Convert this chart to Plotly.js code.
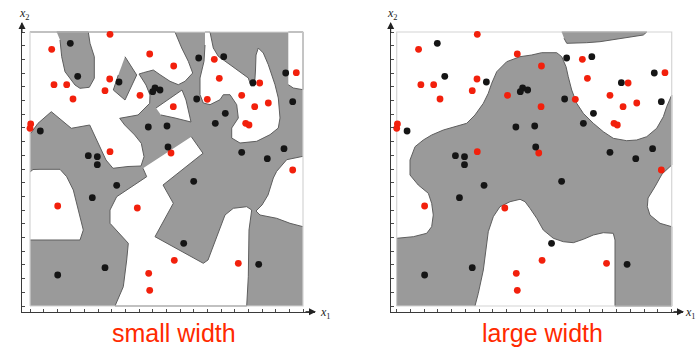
<!DOCTYPE html>
<html>
<head>
<meta charset="utf-8">
<script src="https://cdn.plot.ly/plotly-3.0.1.min.js"></script>
<style>html,body{margin:0;padding:0;background:#fff;}#chart{width:696px;height:347px;}</style>
</head>
<body>
<div id="chart"></div>
<script>
// ---- data points (shared by both panels), units: x1 0..273, x2 0..274 ----
const redX = [80,21.7,119.7,143.7,79.7,24,36.7,75,43,110,143.3,184.3,189.3,266.3,229.7,211.7,177.3,224.7,238.3,215.7,219,0.7,0,80,141,262.7,27.7,107.3,144.3,118.7,119.7,208.3];
const redY = [271.7,256.7,252,240,227,221.3,221.3,215.3,207,210.7,199.3,246.7,227.7,233.3,223,210.7,206.7,199.3,203,182.7,181,182,177.7,154.3,153,136,100,98,45.7,32.7,15.7,42.7];
const blackX = [40.3,47.7,89,125,130,122.7,168.7,193.7,255.7,223,166.7,262.7,195.3,185.3,10.3,118.3,137,138,58.3,67.3,67.3,211.7,237.3,254,86.7,62.3,163.7,153.7,75,27.7,228.7];
const blackY = [262.7,229.7,224,218,216,214.3,248,249.3,233,223.3,207,204.3,192.7,182.7,175,179,180,159,150.3,149.3,141.3,153.7,147.3,157.3,120.7,108.3,124.7,62.7,38.3,31,41.7];

// plot region bounds
const boxX = [0,273,273,0,0];
const boxY = [0,0,274,274,0];

// ---- left panel ("small width") : white regions on gray ----
const sW1x = [0,145,151.7,158.3,162.7,155,148.3,140,130,123.3,113.3,109,116,120,119.7,108,89.7,94.7,104.7,111.3,114,111,98,83,76,69.7,64.7,59.7,41.3,21.3,8,1,0];
const sW1y = [274,274,258,244.7,233,224.7,221.3,224.7,231.3,236,233.3,232,221,211,202.7,191,187.7,181,171,162.7,149.3,140,139.5,137.7,146,159.3,169.3,181,177.7,194.3,182.7,173,173];
const sW2x = [126,152,156,161,145,131];
const sW2y = [198,216,206,184,188,191];
const sW3x = [175,180,183.3,188.3,200,206.7,218.3,221,224.5,225.5,226,228.3,233.3,238.3,245,248.3,250,248.3,240,226.7,210,201.7,201.7,208.3,206.7,200,193.3,190,180,173.3,170,170,174,175];
const sW3y = [274,274,258,249.7,241.3,236.3,228,220,220,236,251,258,253,241.3,221.3,208,188,178,171.3,164.7,163,168,178,188,201.3,211.3,211.3,206.3,201.3,203,211.3,228,244.7,261];
const sW4x = [258.3,273,273,263.3,258.3];
const sW4y = [274,274,216.3,218,221.3];
const sW5x = [0,3,10,30,36.7,43.3,48.3,53.3,50,0];
const sW5y = [134,136.5,136.7,136.7,129.3,116,96,76,66,66];
const sW6x = [161.3,173,133,143.3,125,173.3,178,190,195,203.3,216.7,221.7,219,218.3,216.7,85,93.3,96.7,98.3,80,80,86.7,116.7,113];
const sW6y = [169.3,152.7,121,102.7,69.3,42.7,46,79.3,91,97.7,99.3,96,76,29.3,0,0,19.3,46,62.7,82.7,96,109.3,129.3,137.7];
const sW7x = [273,256.7,246.7,243.3,238,232,226,230,246.7,260,273];
const sW7y = [149.7,146.3,134.7,128,111,101,95,91,87.7,82.7,79.3];
// gray islands inside the upper white area
const sG1x = [26.7,58.3,60,64.3,64.3,59.3,50,45,35,31.7,30];
const sG1y = [274,274,262.7,249.3,227.7,218.7,217.7,221,234.3,249.3,266];
const sG2x = [95,106.7,95,83.3,88.3];
const sG2y = [249.3,231,206,216,231];

// ---- right panel ("large width") : gray regions on white ----
const lG1x = [163.8,248.2,244.8,228.3,215,201.8,188.6,175.3,168.8,166.1];
const lG1y = [274,274,271,268.7,266.7,264.3,263.3,262.7,262.7,267.7];
const lG2x = [0,0,16.5,29.8,34.7,36.3,34.7,31.4,21.4,13.2,13.2,18.2,26.4,34.7,46.3,59.6,69.5,77.7,86,90.9,94.3,99.3,109.2,122.4,134,143.9,158.8,163.8,168.1,170.3,173.7,178.7,185.2,195.2,205.1,215,228.3,238.2,248.2,258.1,264.7,268,273,273,263.4,256.4,249.5,248.8,251.4,261.4,273,273,216.7,216.7,215,205.1,195.2,185.2,175.3,165.4,155.5,145.5,139,132.3,127.4,122.4,112.5,102.5,95.9,90.9,89.3,86,81,77.7];
const lG2y = [0,67.7,69.3,72.7,79.3,91,102.7,112.7,121,131,146,159.3,166,171,176,180,182.7,191,202.7,212.7,222.7,234.3,244.3,249.3,251,253.3,253.3,249.3,239.3,229.3,216,202.7,192.7,182.7,174.3,167.7,165.3,166,169.3,177.7,189.3,199.3,211,141,132,119.3,108,99.3,91,82.7,79.3,0,0,66,72.7,73.3,71,66.7,63.3,64.3,67.7,76,87.7,97.7,104.3,106.7,104.3,99.3,89.3,74.3,62.7,36,12.7,0];

const GRAY = '#9a9a9a', EDGE = '#5e5e5e', RED = '#f2200c', BLK = '#151515';

function poly(xs, ys, fill, lineColor, xa, ya) {
  return {type:'scatter', mode:'lines', x:xs, y:ys, xaxis:xa, yaxis:ya, fill:'toself',
    fillcolor:fill, line:{color:lineColor, width: lineColor ? 1 : 0}, hoverinfo:'skip', showlegend:false};
}
function frame(xa, ya) {
  return {type:'scatter', mode:'lines', x:boxX, y:boxY, xaxis:xa, yaxis:ya,
    line:{color:'#d4d4d4', width:1.2}, hoverinfo:'skip', showlegend:false};
}
function pts(xs, ys, color, xa, ya) {
  return {type:'scatter', mode:'markers', x:xs, y:ys, xaxis:xa, yaxis:ya,
    marker:{color:color, size:6.8, line:{width:0}}, hoverinfo:'skip', showlegend:false, cliponaxis:false};
}

const traces = [
  poly(boxX, boxY, GRAY, null, 'x', 'y'),
  poly(sW1x, sW1y, '#ffffff', EDGE, 'x', 'y'),
  poly(sW2x, sW2y, '#ffffff', EDGE, 'x', 'y'),
  poly(sW3x, sW3y, '#ffffff', EDGE, 'x', 'y'),
  poly(sW4x, sW4y, '#ffffff', EDGE, 'x', 'y'),
  poly(sW5x, sW5y, '#ffffff', EDGE, 'x', 'y'),
  poly(sW6x, sW6y, '#ffffff', EDGE, 'x', 'y'),
  poly(sW7x, sW7y, '#ffffff', EDGE, 'x', 'y'),
  poly(sG1x, sG1y, GRAY, EDGE, 'x', 'y'),
  poly(sG2x, sG2y, GRAY, EDGE, 'x', 'y'),
  frame('x', 'y'),
  pts(redX, redY, RED, 'x', 'y'),
  pts(blackX, blackY, BLK, 'x', 'y'),

  poly(lG1x, lG1y, GRAY, EDGE, 'x2', 'y2'),
  poly(lG2x, lG2y, GRAY, EDGE, 'x2', 'y2'),
  frame('x2', 'y2'),
  pts(redX, redY, RED, 'x2', 'y2'),
  pts(blackX, blackY, BLK, 'x2', 'y2')
];

const W = 696, H = 347;
function px(v){ return v / W; }
function py(v){ return 1 - v / H; }

const axX = {showgrid:false, zeroline:false, showline:true, linecolor:'#3a3a3a', linewidth:1,
  ticks:'inside', ticklen:3, tickwidth:1, tickcolor:'#4a4a4a', showticklabels:false,
  tickmode:'linear', tick0:0, dtick:13.65, fixedrange:true};
const axY = Object.assign({}, axX, {dtick:13.7});

const serif = {family:'Liberation Serif, DejaVu Serif, serif', size:12, color:'#222'};
const capFont = {family:'Liberation Sans, Arial, sans-serif', size:25, color:'#ff2a00'};
function label(x, y, text, font) {
  return {xref:'paper', yref:'paper', x:px(x), y:py(y), xanchor:'center', yanchor:'middle', text:text, showarrow:false, font:font};
}
function arrow(x, y, ax, ay) {
  return {xref:'paper', yref:'paper', x:px(x), y:py(y), ax:ax, ay:ay, text:'', showarrow:true, arrowhead:2, arrowsize:1.4, arrowwidth:1, arrowcolor:'#222'};
}

const layout = {
  width: W, height: H, margin:{l:0,r:0,t:0,b:0}, paper_bgcolor:'#fff', plot_bgcolor:'rgba(0,0,0,0)',
  showlegend:false,
  xaxis: Object.assign({}, axX, {domain:[px(22), px(315)], range:[-8, 285], anchor:'y'}),
  yaxis: Object.assign({}, axY, {domain:[py(311.7), py(23)], range:[-5.7, 283], anchor:'x'}),
  xaxis2: Object.assign({}, axX, {domain:[px(390.7), px(683)], range:[-5.96, 284.2], anchor:'y2'}),
  yaxis2: Object.assign({}, axY, {domain:[py(311.7), py(23)], range:[-5.7, 283], anchor:'x2'}),
  annotations: [
    arrow(22, 22, 0, 12),
    arrow(316, 311.7, -12, 0),
    arrow(390.7, 22, 0, 12),
    arrow(684, 311.7, -12, 0),
    label(24, 14, '<i>x</i><sub>2</sub>', serif),
    label(325, 313, '<i>x</i><sub>1</sub>', serif),
    label(392, 14, '<i>x</i><sub>2</sub>', serif),
    label(690, 313, '<i>x</i><sub>1</sub>', serif),
    label(174, 333, 'small width', capFont),
    label(542.5, 333, 'large width', capFont)
  ]
};

Plotly.newPlot('chart', traces, layout, {staticPlot:true, displayModeBar:false});
</script>
</body>
</html>
